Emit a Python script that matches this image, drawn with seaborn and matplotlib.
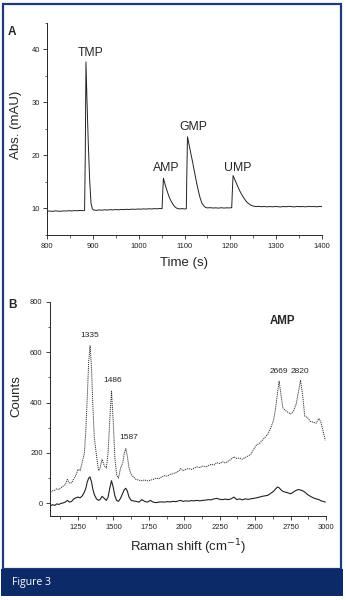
import matplotlib
matplotlib.use("Agg")
import matplotlib.pyplot as plt
from matplotlib.patches import Rectangle
from matplotlib.ticker import MultipleLocator
import seaborn as sns
import pandas as pd

# ---------------- Data: panel A (chromatogram) ----------------
time_s = [800, 806, 812, 818, 824, 830, 836, 842, 848, 854,
          860, 866, 872, 878, 882, 883.5, 885, 887, 890, 893,
          896, 899, 902, 908, 914, 920, 926, 932, 938, 944,
          950, 956, 962, 968, 974, 980, 986, 992, 998, 1004,
          1010, 1016, 1022, 1028, 1034, 1040, 1046, 1051, 1052.5, 1054,
          1058, 1062, 1066, 1070, 1074, 1078, 1082, 1086, 1090, 1095,
          1100, 1104, 1105, 1106.5, 1110, 1114, 1118, 1122, 1126, 1130,
          1134, 1138, 1142, 1146, 1150, 1156, 1162, 1168, 1174, 1180,
          1186, 1192, 1198, 1203, 1204.5, 1206, 1210, 1215, 1220, 1225,
          1230, 1235, 1240, 1245, 1250, 1256, 1262, 1268, 1274, 1280,
          1286, 1292, 1298, 1304, 1310, 1316, 1322, 1328, 1334, 1340,
          1346, 1352, 1358, 1364, 1370, 1376, 1382, 1388, 1394, 1400]
absorbance = [9.48, 9.52, 9.45, 9.55, 9.50, 9.46, 9.55, 9.52, 9.58, 9.53,
              9.60, 9.56, 9.62, 9.58, 9.65, 20.0, 37.6, 31.0, 22.5, 15.5,
              11.0, 9.9, 9.7, 9.65, 9.72, 9.68, 9.75, 9.70, 9.78, 9.72,
              9.80, 9.74, 9.82, 9.78, 9.85, 9.80, 9.88, 9.83, 9.90, 9.86,
              9.92, 9.88, 9.95, 9.90, 9.97, 9.93, 10.0, 9.96, 13.0, 15.7,
              14.4, 13.3, 12.3, 11.5, 10.9, 10.4, 10.1, 9.95, 9.92, 9.98,
              9.90, 9.95, 16.0, 23.5, 22.0, 20.3, 18.6, 16.8, 15.0, 13.4,
              12.0, 11.0, 10.5, 10.2, 10.1, 10.15, 10.08, 10.12, 10.06, 10.14,
              10.08, 10.12, 10.10, 10.15, 13.5, 16.2, 15.4, 14.4, 13.4, 12.6,
              11.9, 11.3, 10.9, 10.6, 10.45, 10.35, 10.40, 10.32, 10.38, 10.30,
              10.36, 10.31, 10.38, 10.33, 10.29, 10.37, 10.32, 10.40, 10.34, 10.30,
              10.38, 10.33, 10.36, 10.30, 10.39, 10.34, 10.37, 10.31, 10.38, 10.35]
peak_names = ["TMP", "AMP", "GMP", "UMP"]
peak_label_x = [896, 1061, 1119, 1215]
peak_label_y = [39.2, 17.6, 25.3, 17.6]

# ---------------- Data: panel B (Raman spectra) ----------------
raman_shift = [1055, 1070, 1085, 1100, 1115, 1130, 1145, 1160, 1175, 1190,
               1205, 1220, 1235, 1250, 1265, 1280, 1295, 1305, 1315, 1325,
               1335, 1345, 1355, 1365, 1380, 1395, 1405, 1420, 1435, 1450,
               1462, 1474, 1486, 1498, 1510, 1522, 1535, 1550, 1565, 1577,
               1587, 1597, 1610, 1625, 1640, 1660, 1680, 1700, 1720, 1740,
               1760, 1780, 1800, 1820, 1840, 1860, 1880, 1900, 1920, 1940,
               1960, 1975, 1990, 2010, 2030, 2050, 2070, 2090, 2110, 2130,
               2150, 2170, 2190, 2210, 2230, 2250, 2270, 2290, 2310, 2330,
               2350, 2370, 2390, 2410, 2430, 2450, 2470, 2490, 2510, 2530,
               2550, 2570, 2590, 2610, 2630, 2645, 2658, 2669, 2680, 2695,
               2710, 2730, 2750, 2770, 2790, 2805, 2820, 2835, 2850, 2870,
               2890, 2910, 2930, 2950, 2965, 2980, 2995]
counts_dotted = [45, 50, 52, 58, 55, 62, 68, 75, 95, 80,
                 82, 98, 112, 135, 130, 165, 200, 290, 420, 560,
                 625, 540, 380, 260, 190, 130, 140, 175, 150, 140,
                 200, 330, 445, 330, 180, 115, 100, 140, 160, 200,
                 217, 190, 140, 115, 105, 95, 92, 90, 93, 89,
                 92, 95, 100, 98, 105, 110, 108, 115, 118, 122,
                 128, 138, 130, 135, 138, 135, 140, 145, 142, 148,
                 145, 150, 155, 152, 162, 158, 165, 160, 168, 175,
                 185, 178, 180, 175, 182, 188, 195, 215, 232, 238,
                 250, 262, 275, 300, 330, 380, 440, 485, 440, 380,
                 370, 362, 355, 365, 395, 440, 489, 430, 346, 340,
                 325, 322, 318, 337, 320, 285, 250]
counts_solid = [-10, -5, -8, -2, -4, 0, 2, 5, 12, 5,
                8, 18, 22, 25, 22, 30, 45, 60, 85, 100,
                105, 85, 55, 35, 18, 12, 15, 28, 20, 12,
                25, 60, 90, 65, 30, 12, 8, 20, 40, 55,
                60, 50, 25, 12, 10, 8, 5, 15, 8, 5,
                12, 5, 3, 5, 6, 5, 7, 6, 8, 7,
                10, 12, 8, 10, 9, 11, 10, 12, 10, 12,
                13, 15, 14, 18, 20, 16, 15, 17, 15, 18,
                25, 15, 18, 14, 18, 16, 18, 20, 22, 25,
                28, 30, 32, 40, 48, 58, 65, 62, 55, 48,
                45, 42, 38, 45, 52, 55, 53, 50, 45, 35,
                28, 22, 18, 15, 10, 8, 5]
band_labels = ["1335", "1486", "1587", "2669", "2820"]
band_label_x = [1335, 1492, 1605, 2667, 2819]
band_label_y = [665, 486, 260, 522, 522]

# ---------------- Figure ----------------
sns.set_style("ticks")
plt.rcParams["font.family"] = ["Liberation Sans", "DejaVu Sans"]

W, H = 346, 600
fig = plt.figure(figsize=(W / 100, H / 100), dpi=100)
fig.patch.set_facecolor("white")

navy_border = "#1d3a7c"
navy_banner = "#0c2a68"
# frame and banner
fig.patches.append(Rectangle((2.5 / W, 1 - 569 / H), (341 - 2.5) / W, (569 - 3.5) / H,
                             transform=fig.transFigure, facecolor="none",
                             edgecolor=navy_border, linewidth=1.6, zorder=0))
fig.patches.append(Rectangle((1.5 / W, 1 - 596 / H), (342.5 - 1.5) / W, (596 - 569) / H,
                             transform=fig.transFigure, facecolor=navy_banner,
                             edgecolor="none", zorder=0))
fig.text(12 / W, 1 - 583 / H, "Figure 3", color="white", fontsize=7.6,
         family=["Open Sans", "DejaVu Sans"], va="center", ha="left")


def axes_px(left, top, right, bottom):
    return fig.add_axes([left / W, 1 - bottom / H, (right - left) / W, (bottom - top) / H])


tick_fs = 5.5
lab_fs = 9.5

# ---- Panel A ----
axA = axes_px(47, 22.7, 322, 235)
dfA = pd.DataFrame({"time": time_s, "abs": absorbance})
sns.lineplot(data=dfA, x="time", y="abs", ax=axA, color="#222222", linewidth=0.7)
axA.set_xlim(800, 1400)
axA.set_ylim(5, 45)
axA.xaxis.set_major_locator(MultipleLocator(100))
axA.xaxis.set_minor_locator(MultipleLocator(50))
axA.yaxis.set_major_locator(MultipleLocator(10))
axA.yaxis.set_minor_locator(MultipleLocator(5))
axA.set_yticks([10, 20, 30, 40])
axA.set_xlabel("Time (s)", fontsize=lab_fs, labelpad=5)
axA.set_ylabel("Abs. (mAU)", fontsize=lab_fs)
axA.yaxis.set_label_coords(-24.5 / 275, 0.518)
for name, x, y in zip(peak_names, peak_label_x, peak_label_y):
    axA.text(x, y, name, fontsize=8.8, ha="center", va="center")

# ---- Panel B ----
axB = axes_px(49.7, 301.7, 326, 516)
dfB = pd.DataFrame({"shift": raman_shift + raman_shift,
                    "counts": counts_dotted + counts_solid,
                    "trace": ["dotted"] * len(raman_shift) + ["solid"] * len(raman_shift)})
sns.lineplot(data=dfB[dfB.trace == "dotted"], x="shift", y="counts", ax=axB,
             color="#333333", linewidth=0.7, linestyle=(0, (1.2, 0.9)))
sns.lineplot(data=dfB[dfB.trace == "solid"], x="shift", y="counts", ax=axB,
             color="#222222", linewidth=0.8)
axB.set_xlim(1050, 3000)
axB.set_ylim(-50, 800)
axB.xaxis.set_major_locator(MultipleLocator(250))
axB.xaxis.set_minor_locator(MultipleLocator(125))
axB.set_xticks([1250, 1500, 1750, 2000, 2250, 2500, 2750, 3000])
axB.set_yticks([0, 200, 400, 600, 800])
axB.yaxis.set_minor_locator(MultipleLocator(100))
axB.set_xlabel("Raman shift (cm$^{-1}$)", fontsize=lab_fs, labelpad=4)
axB.set_ylabel("Counts", fontsize=lab_fs)
axB.yaxis.set_label_coords(-27.7 / 276.3, 0.561)
for name, x, y in zip(band_labels, band_label_x, band_label_y):
    axB.text(x, y, name, fontsize=6, ha="center", va="center")
axB.text(2690, 725, "AMP", fontsize=8.3, fontweight="bold", ha="center", va="center")

for ax in (axA, axB):
    sns.despine(ax=ax)
    ax.spines["left"].set_linewidth(0.7)
    ax.spines["bottom"].set_linewidth(0.7)
    ax.tick_params(which="major", direction="out", length=2.6, width=0.6,
                   labelsize=tick_fs, pad=2.5, colors="#222222")
    ax.tick_params(axis="x", which="major", pad=3.5)
    ax.tick_params(which="minor", direction="out", length=1.8, width=0.5)
    ax.set_facecolor("none")

fig.text(12.3 / W, 1 - 31.7 / H, "A", fontsize=8.5, fontweight="bold", ha="center", va="center")
fig.text(12.3 / W, 1 - 305 / H, "B", fontsize=8.5, fontweight="bold", ha="center", va="center")

fig.savefig("out.png", dpi=100, facecolor="white")
